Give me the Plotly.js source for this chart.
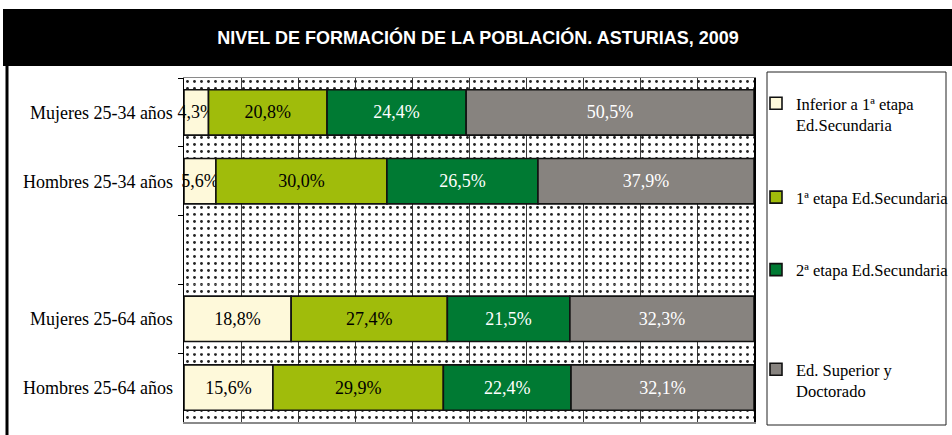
<!DOCTYPE html>
<html><head><meta charset="utf-8">
<script src="https://cdn.plot.ly/plotly-3.0.1.min.js"></script>
<style>html,body{margin:0;padding:0;background:#fff;overflow:hidden}#chart{width:952px;height:435px}</style>
</head><body><div id="chart"></div>
<script>
// ---- data ----
const categories = ['Mujeres 25-34 años', 'Hombres 25-34 años', ' ', 'Mujeres 25-64 años', 'Hombres 25-64 años'];
const seriesNames = ['Inferior a 1ª etapa<br>Ed.Secundaria', '1ª etapa Ed.Secundaria', '2ª etapa Ed.Secundaria', 'Ed. Superior y<br>Doctorado'];
const inferior = [4.3, 5.6, null, 18.8, 15.6];
const primera = [20.8, 30.0, null, 27.4, 29.9];
const segunda = [24.4, 26.5, null, 21.5, 22.4];
const superior = [50.5, 37.9, null, 32.3, 32.1];
const axisMax = 100;
const titleText = 'NIVEL DE FORMACIÓN DE LA POBLACIÓN. ASTURIAS, 2009';

// ---- styles ----
const colors = ['#FEF9DA', '#A0BC0B', '#007A33', '#87837F'];
const textColors = ['#000', '#000', '#fff', '#fff'];
const legendRefs = ['legend', 'legend', 'legend', 'legend2'];
const series = [inferior, primera, segunda, superior];
const serif = 'Liberation Serif, Times New Roman, serif';

const W = 952, H = 435;
const L = 184, R = 198, T = 78, B = 13;
const pw = W - L - R, ph = H - T - B;
const px = x => (x - L) / pw;
const py = y => (H - B - y) / ph;

const traces = [];
// dotted background per category slot
traces.push({
  type: 'bar', orientation: 'h', y: categories, x: categories.map(() => axisMax), base: 0,
  width: 1, showlegend: false, hoverinfo: 'skip',
  marker: { color: 'rgba(0,0,0,0)', line: { width: 0 },
    pattern: { shape: '.', bgcolor: 'rgba(0,0,0,0)', fgcolor: '#222', size: 7, solidity: 0.13, fillmode: 'replace' } }
});
let cum = categories.map(() => 0);
series.forEach((vals, i) => {
  const base = cum.slice();
  traces.push({
    type: 'bar', orientation: 'h', name: seriesNames[i], legendgroup: 'g' + i, legend: legendRefs[i],
    y: categories, x: vals, base: base.map((b, k) => vals[k] == null ? null : b),
    width: 0.66, cliponaxis: false,
    marker: { color: colors[i], line: { color: '#111', width: 1.6 } },
    texttemplate: '%{x:.1f}%', textposition: 'inside', insidetextanchor: 'middle',
    constraintext: 'none', textangle: 0,
    insidetextfont: { family: serif, size: 18, color: textColors[i] },
    hoverinfo: 'skip'
  });
  cum = cum.map((c, k) => c + (vals[k] || 0));
});

const legendCommon = {
  x: px(756), xanchor: 'left', yanchor: 'top',
  bgcolor: 'rgba(0,0,0,0)', borderwidth: 0,
  traceorder: 'grouped', tracegroupgap: 48, valign: 'top',
  font: { family: serif, size: 16.5, color: '#000' }
};

const layout = {
  width: W, height: H,
  margin: { l: L, r: R, t: T, b: B, pad: 0, autoexpand: false },
  paper_bgcolor: '#fff', plot_bgcolor: '#fff',
  barmode: 'overlay',
  separators: ',.',
  font: { family: serif, color: '#000' },
  title: {
    text: '<b>' + titleText + '</b>',
    font: { family: 'Liberation Sans, Arial, sans-serif', size: 18, color: '#fff' },
    x: 478 / W, xanchor: 'center', xref: 'container',
    y: 1 - 38 / H, yanchor: 'middle', yref: 'container'
  },
  xaxis: {
    range: [0, axisMax], dtick: 10, tick0: 0, showgrid: true, gridcolor: '#3a3a3a', gridwidth: 1,
    showticklabels: false, ticks: '', zeroline: false,
    showline: true, linecolor: '#8a8a8a', linewidth: 1.5, mirror: true, fixedrange: true
  },
  yaxis: {
    type: 'category', categoryorder: 'array', categoryarray: categories, autorange: 'reversed',
    tickson: 'boundaries', ticks: 'outside', ticklen: 5, tickcolor: '#000', tickwidth: 1,
    showgrid: false, showline: true, linecolor: '#000', linewidth: 1.5, mirror: true,
    ticklabelstandoff: 6,
    tickfont: { family: serif, size: 18, color: '#000' },
    fixedrange: true
  },
  showlegend: true,
  legend: Object.assign({}, legendCommon, { y: py(86) }),
  legend2: Object.assign({}, legendCommon, { y: py(352) }),
  shapes: [
    { type: 'rect', xref: 'paper', yref: 'paper', x0: px(3), x1: px(952), y0: py(66), y1: py(9),
      fillcolor: '#000', line: { width: 0 }, layer: 'above' },
    { type: 'line', xref: 'paper', yref: 'paper', x0: px(7), x1: px(7), y0: py(435), y1: py(66),
      line: { color: '#000', width: 3 }, layer: 'above' },
    { type: 'rect', xref: 'paper', yref: 'paper', x0: px(767), x1: px(946), y0: py(425), y1: py(72),
      fillcolor: 'rgba(0,0,0,0)', line: { color: '#222', width: 1 }, layer: 'above' }
  ]
};

Plotly.newPlot('chart', traces, layout, { displayModeBar: false, staticPlot: true });
</script>
</body></html>
